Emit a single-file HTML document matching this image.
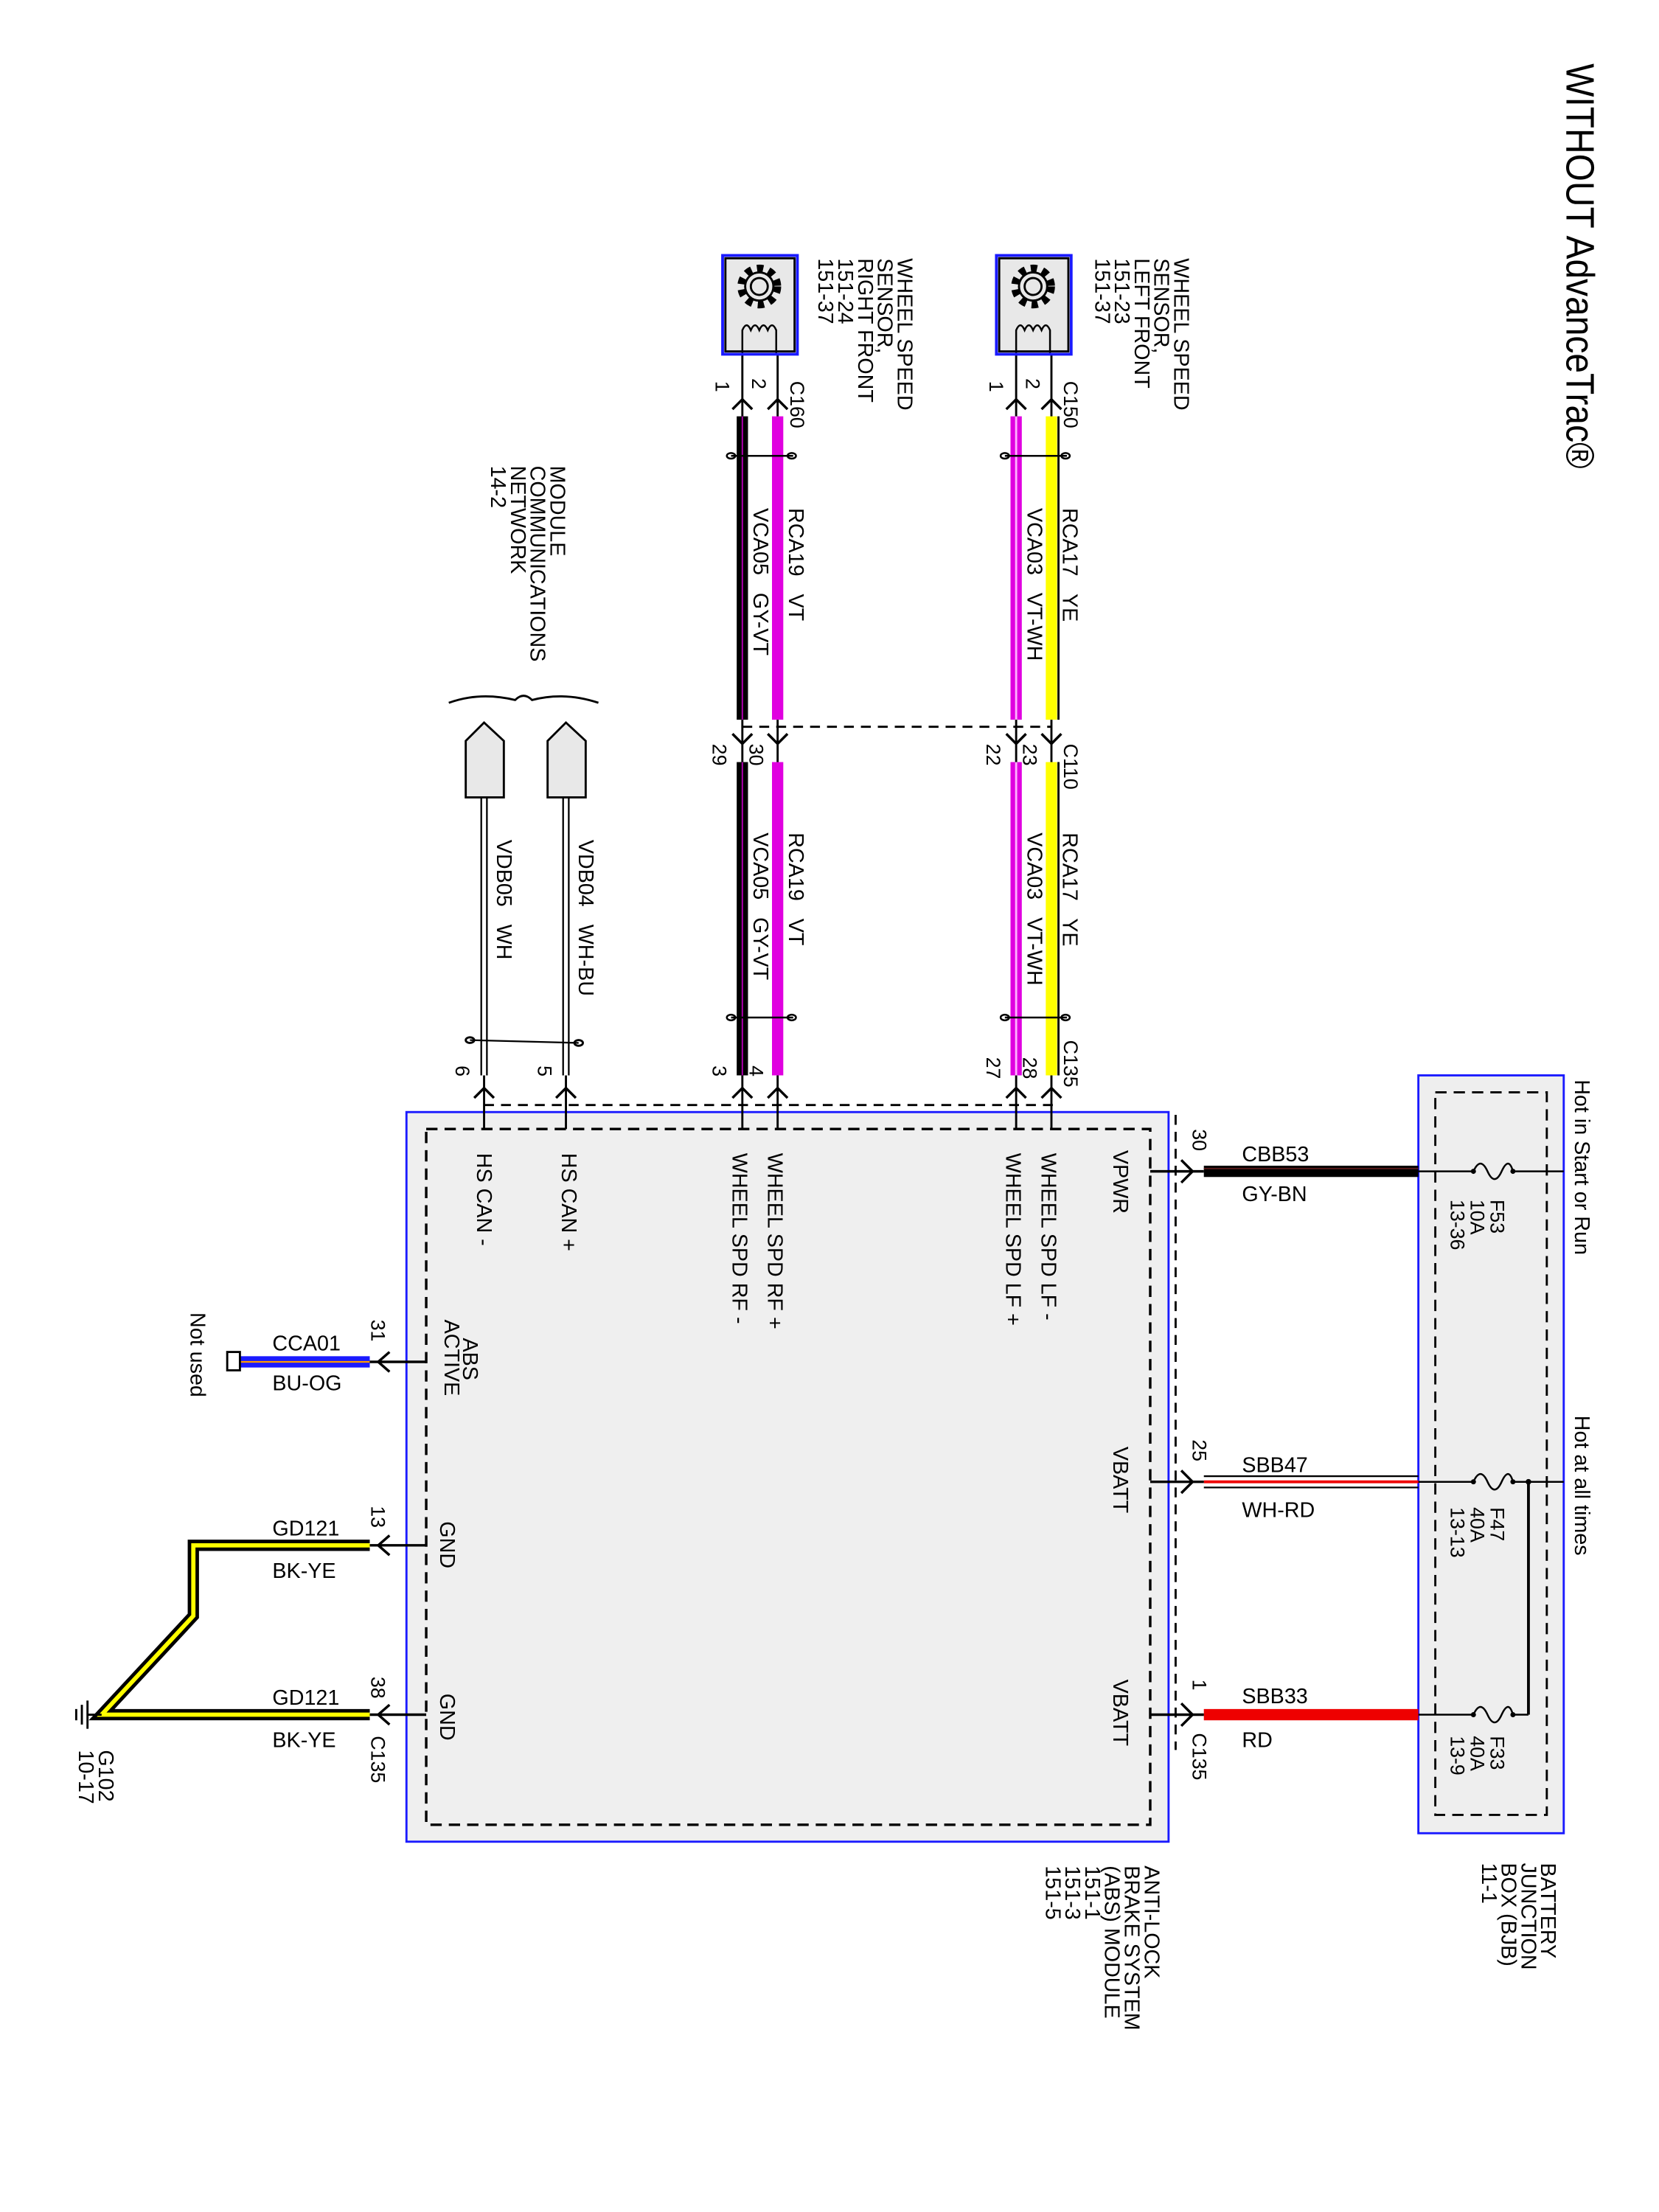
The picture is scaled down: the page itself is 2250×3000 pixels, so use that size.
<!DOCTYPE html>
<html><head><meta charset="utf-8"><style>
html,body{margin:0;padding:0;background:#fff}
svg{display:block}
text{font-family:"Liberation Sans",sans-serif;fill:#000}
</style></head><body>
<svg width="2250" height="3000" viewBox="0 0 1175.5 1567.4" preserveAspectRatio="none" xmlns="http://www.w3.org/2000/svg">
<rect width="1175.5" height="1567.4" fill="#fff"/>
<!-- Title -->
<text transform="translate(1110,45) rotate(90)" font-size="28" textLength="287" lengthAdjust="spacingAndGlyphs">WITHOUT AdvanceTrac®</text>

<!-- Battery junction box -->
<rect x="1005" y="762" width="103" height="537" fill="#eeeeee" stroke="#1a1aff" stroke-width="1.5"/>
<rect x="1017" y="774" width="79" height="512" fill="none" stroke="#000" stroke-width="1.5" stroke-dasharray="8,5"/>
<text transform="translate(1116,765) rotate(90)" font-size="15">Hot in Start or Run</text>
<text transform="translate(1116,1003) rotate(90)" font-size="15">Hot at all times</text>
<g stroke="#000" stroke-width="1.3" fill="none">
<line x1="1005" y1="830" x2="1044" y2="830"/><path d="M1044,830 q5,-11 10,0 q5,11 10,0 q5,-11 8,0"/><line x1="1072" y1="830" x2="1108" y2="830"/>
<line x1="1005" y1="1050" x2="1044" y2="1050"/><path d="M1044,1050 q5,-11 10,0 q5,11 10,0 q5,-11 8,0"/><line x1="1072" y1="1050" x2="1108" y2="1050"/>
<line x1="1005" y1="1215" x2="1044" y2="1215"/><path d="M1044,1215 q5,-11 10,0 q5,11 10,0 q5,-11 8,0"/><line x1="1072" y1="1215" x2="1083" y2="1215"/>
<line x1="1083" y1="1050" x2="1083" y2="1215" stroke-width="2"/>
</g>
<circle cx="1083" cy="1050" r="2"/>
<circle cx="1044" cy="830" r="1.8"/><circle cx="1072" cy="830" r="1.8"/>
<circle cx="1044" cy="1050" r="1.8"/><circle cx="1072" cy="1050" r="1.8"/>
<circle cx="1044" cy="1215" r="1.8"/><circle cx="1072" cy="1215" r="1.8"/>
<g font-size="14">
<text transform="translate(1056,850) rotate(90)">F53</text><text transform="translate(1042,850) rotate(90)">10A</text><text transform="translate(1028,850) rotate(90)">13-36</text>
<text transform="translate(1056,1068) rotate(90)">F47</text><text transform="translate(1042,1068) rotate(90)">40A</text><text transform="translate(1028,1068) rotate(90)">13-13</text>
<text transform="translate(1056,1230) rotate(90)">F33</text><text transform="translate(1042,1230) rotate(90)">40A</text><text transform="translate(1028,1230) rotate(90)">13-9</text>
</g>
<g font-size="15">
<text transform="translate(1092,1320) rotate(90)">BATTERY</text><text transform="translate(1078,1320) rotate(90)">JUNCTION</text><text transform="translate(1064,1320) rotate(90)">BOX (BJB)</text><text transform="translate(1050,1320) rotate(90)">11-1</text>
</g>

<!-- power wires -->
<rect x="853" y="826" width="152" height="8" fill="#000"/>
<line x1="853" y1="828" x2="1005" y2="828" stroke="#5a1a1a" stroke-width="1"/>
<g><line x1="853" y1="1046" x2="1005" y2="1046" stroke="#000" stroke-width="1.2"/><line x1="853" y1="1050" x2="1005" y2="1050" stroke="#e00" stroke-width="2"/><line x1="853" y1="1054" x2="1005" y2="1054" stroke="#000" stroke-width="1.2"/></g>
<rect x="853" y="1211" width="152" height="8" fill="#ee0000"/>
<g font-size="15">
<text x="880" y="823">CBB53</text><text x="880" y="851">GY-BN</text>
<text x="880" y="1043">SBB47</text><text x="880" y="1075">WH-RD</text>
<text x="880" y="1207">SBB33</text><text x="880" y="1238">RD</text>
</g>

<!-- ABS module -->
<rect x="288" y="788" width="540" height="517" fill="#efefef" stroke="#1a1aff" stroke-width="1.5"/>
<rect x="302" y="800" width="513" height="493" fill="none" stroke="#000" stroke-width="1.8" stroke-dasharray="8,5"/>
<line x1="833" y1="790" x2="833" y2="1240" stroke="#000" stroke-width="1.5" stroke-dasharray="7,5"/>
<line x1="343" y1="783" x2="748" y2="783" stroke="#000" stroke-width="1.5" stroke-dasharray="7,5"/>
<g stroke="#000" stroke-width="1.8" fill="none">
<line x1="815" y1="830" x2="853" y2="830"/><path d="M837,822 L845,830 L837,838"/>
<line x1="815" y1="1050" x2="853" y2="1050"/><path d="M837,1042 L845,1050 L837,1058"/>
<line x1="815" y1="1215" x2="853" y2="1215"/><path d="M837,1207 L845,1215 L837,1223"/>
</g>
<g font-size="14">
<text transform="translate(845,800) rotate(90)">30</text>
<text transform="translate(845,1020) rotate(90)">25</text>
<text transform="translate(845,1190) rotate(90)">1</text>
<text transform="translate(845,1228) rotate(90)">C135</text>
</g>
<g font-size="15">
<text transform="translate(789,815) rotate(90)">VPWR</text>
<text transform="translate(789,1025) rotate(90)">VBATT</text>
<text transform="translate(789,1190) rotate(90)">VBATT</text>
<text transform="translate(738,817) rotate(90)">WHEEL SPD LF -</text>
<text transform="translate(713,817) rotate(90)">WHEEL SPD LF +</text>
<text transform="translate(544,817) rotate(90)">WHEEL SPD RF +</text>
<text transform="translate(519,817) rotate(90)">WHEEL SPD RF -</text>
<text transform="translate(398,817) rotate(90)">HS CAN +</text>
<text transform="translate(338,817) rotate(90)">HS CAN -</text>
<text transform="translate(328,948) rotate(90)">ABS</text>
<text transform="translate(315,935) rotate(90)">ACTIVE</text>
<text transform="translate(312,1078) rotate(90)">GND</text>
<text transform="translate(312,1200) rotate(90)">GND</text>
</g>
<g font-size="15">
<text transform="translate(811,1322) rotate(90)">ANTI-LOCK</text><text transform="translate(797,1322) rotate(90)">BRAKE SYSTEM</text><text transform="translate(783,1322) rotate(90)">(ABS) MODULE</text><text transform="translate(769,1322) rotate(90)">151-1</text><text transform="translate(755,1322) rotate(90)">151-3</text><text transform="translate(741,1322) rotate(90)">151-5</text>
</g>

<!-- Top wires -->
<rect x="741" y="295" width="8" height="215" fill="#ffff00"/><line x1="750" y1="295" x2="750" y2="510" stroke="#000" stroke-width="1.5"/>
<rect x="741" y="540" width="8" height="222" fill="#ffff00"/><line x1="750" y1="540" x2="750" y2="762" stroke="#000" stroke-width="1.5"/>
<rect x="716" y="295" width="8" height="215" fill="#e000e0"/><line x1="720" y1="295" x2="720" y2="510" stroke="#ffb0ff" stroke-width="1.5"/>
<rect x="716" y="540" width="8" height="222" fill="#e000e0"/><line x1="720" y1="540" x2="720" y2="762" stroke="#ffb0ff" stroke-width="1.5"/>
<rect x="547" y="295" width="8" height="215" fill="#e000e0"/>
<rect x="547" y="540" width="8" height="222" fill="#e000e0"/>
<rect x="522" y="295" width="8" height="215" fill="#000"/><line x1="526" y1="295" x2="526" y2="510" stroke="#b000b0" stroke-width="1"/>
<rect x="522" y="540" width="8" height="222" fill="#000"/><line x1="526" y1="540" x2="526" y2="762" stroke="#b000b0" stroke-width="1"/>
<g stroke="#000" stroke-width="1.5" fill="none">
<line x1="745" y1="250" x2="745" y2="295"/><line x1="720" y1="250" x2="720" y2="295"/>
<line x1="551" y1="250" x2="551" y2="295"/><line x1="526" y1="250" x2="526" y2="295"/>
<line x1="745" y1="510" x2="745" y2="540"/><line x1="720" y1="510" x2="720" y2="540"/>
<line x1="551" y1="510" x2="551" y2="540"/><line x1="526" y1="510" x2="526" y2="540"/>
<line x1="745" y1="762" x2="745" y2="800"/><line x1="720" y1="762" x2="720" y2="800"/>
<line x1="551" y1="762" x2="551" y2="800"/><line x1="526" y1="762" x2="526" y2="800"/>
<line x1="401" y1="762" x2="401" y2="800"/><line x1="343" y1="762" x2="343" y2="800"/>
<line x1="526" y1="515" x2="745" y2="515" stroke-dasharray="7,5"/>
</g>
<g stroke="#000" stroke-width="1.8" fill="none">
<path d="M738,290 L745,283 L752,290"/><path d="M713,290 L720,283 L727,290"/>
<path d="M544,290 L551,283 L558,290"/><path d="M519,290 L526,283 L533,290"/>
<path d="M738,520 L745,527 L752,520"/><path d="M713,520 L720,527 L727,520"/>
<path d="M544,520 L551,527 L558,520"/><path d="M519,520 L526,527 L533,520"/>
<path d="M738,778 L745,771 L752,778"/><path d="M713,778 L720,771 L727,778"/>
<path d="M544,778 L551,771 L558,778"/><path d="M519,778 L526,771 L533,778"/>
<path d="M394,778 L401,771 L408,778"/><path d="M336,778 L343,771 L350,778"/>
</g>
<g stroke="#000" stroke-width="1.3" fill="none">
<line x1="712" y1="323" x2="756" y2="323"/><ellipse cx="712" cy="323" rx="3" ry="2"/><ellipse cx="755" cy="323" rx="3" ry="2"/>
<line x1="518" y1="323" x2="562" y2="323"/><ellipse cx="518" cy="323" rx="3" ry="2"/><ellipse cx="561" cy="323" rx="3" ry="2"/>
<line x1="712" y1="721" x2="756" y2="721"/><ellipse cx="712" cy="721" rx="3" ry="2"/><ellipse cx="755" cy="721" rx="3" ry="2"/>
<line x1="518" y1="721" x2="562" y2="721"/><ellipse cx="518" cy="721" rx="3" ry="2"/><ellipse cx="561" cy="721" rx="3" ry="2"/>
</g>
<g font-size="14">
<text transform="translate(701,270) rotate(90)">1</text><text transform="translate(727,268) rotate(90)">2</text><text transform="translate(754,270) rotate(90)">C150</text>
<text transform="translate(507,270) rotate(90)">1</text><text transform="translate(533,268) rotate(90)">2</text><text transform="translate(560,270) rotate(90)">C160</text>
<text transform="translate(699,527) rotate(90)">22</text><text transform="translate(725,527) rotate(90)">23</text><text transform="translate(754,527) rotate(90)">C110</text>
<text transform="translate(505,527) rotate(90)">29</text><text transform="translate(531,527) rotate(90)">30</text>
<text transform="translate(699,749) rotate(90)">27</text><text transform="translate(725,749) rotate(90)">28</text><text transform="translate(754,737) rotate(90)">C135</text>
<text transform="translate(505,755) rotate(90)">3</text><text transform="translate(531,755) rotate(90)">4</text>
<text transform="translate(381,755) rotate(90)">5</text><text transform="translate(323,755) rotate(90)">6</text>
</g>
<g font-size="15">
<text transform="translate(753,360) rotate(90)">RCA17 &#160; YE</text>
<text transform="translate(728,360) rotate(90)">VCA03 &#160; VT-WH</text>
<text transform="translate(559,360) rotate(90)">RCA19 &#160; VT</text>
<text transform="translate(534,360) rotate(90)">VCA05 &#160; GY-VT</text>
<text transform="translate(753,590) rotate(90)">RCA17 &#160; YE</text>
<text transform="translate(728,590) rotate(90)">VCA03 &#160; VT-WH</text>
<text transform="translate(559,590) rotate(90)">RCA19 &#160; VT</text>
<text transform="translate(534,590) rotate(90)">VCA05 &#160; GY-VT</text>
<text transform="translate(410,595) rotate(90)">VDB04 &#160; WH-BU</text>
<text transform="translate(352,595) rotate(90)">VDB05 &#160; WH</text>
</g>

<!-- Sensors -->
<g>
<rect x="706" y="181" width="53" height="70" fill="#e8e8e8" stroke="#1a1aff" stroke-width="2"/>
<rect x="708" y="183" width="49" height="66" fill="none" stroke="#000" stroke-width="1.5"/>
<circle cx="732" cy="203" r="13" fill="none" stroke="#000" stroke-width="5" stroke-dasharray="4.5,4"/>
<circle cx="732" cy="203" r="10" fill="#e8e8e8" stroke="#000" stroke-width="1.5"/>
<circle cx="732" cy="203" r="6" fill="none" stroke="#000" stroke-width="1.5"/>
<path d="M720,250 V234 q3,-7 6,0 q3,-7 6,0 q3,-7 6,0 q3,-7 6,0 V250" fill="none" stroke="#000" stroke-width="1.3"/>
<rect x="512" y="181" width="53" height="70" fill="#e8e8e8" stroke="#1a1aff" stroke-width="2"/>
<rect x="514" y="183" width="49" height="66" fill="none" stroke="#000" stroke-width="1.5"/>
<circle cx="538" cy="203" r="13" fill="none" stroke="#000" stroke-width="5" stroke-dasharray="4.5,4"/>
<circle cx="538" cy="203" r="10" fill="#e8e8e8" stroke="#000" stroke-width="1.5"/>
<circle cx="538" cy="203" r="6" fill="none" stroke="#000" stroke-width="1.5"/>
<path d="M526,250 V234 q3,-7 6,0 q3,-7 6,0 q3,-7 6,0 q3,-7 6,0 V250" fill="none" stroke="#000" stroke-width="1.3"/>
</g>
<g font-size="15">
<text transform="translate(832,183) rotate(90)">WHEEL SPEED</text><text transform="translate(818,183) rotate(90)">SENSOR,</text><text transform="translate(804,183) rotate(90)">LEFT FRONT</text><text transform="translate(790,183) rotate(90)">151-23</text><text transform="translate(776,183) rotate(90)">151-37</text>
<text transform="translate(636,183) rotate(90)">WHEEL SPEED</text><text transform="translate(622,183) rotate(90)">SENSOR,</text><text transform="translate(608,183) rotate(90)">RIGHT FRONT</text><text transform="translate(594,183) rotate(90)">151-24</text><text transform="translate(580,183) rotate(90)">151-37</text>
<text transform="translate(390,330) rotate(90)">MODULE</text><text transform="translate(376,330) rotate(90)">COMMUNICATIONS</text><text transform="translate(362,330) rotate(90)">NETWORK</text><text transform="translate(348,330) rotate(90)">14-2</text>
</g>

<!-- HS CAN connectors -->
<g stroke="#000" stroke-width="1.5">
<path d="M330,565 V525 L343,512 L357,525 V565 Z" fill="#e8e8e8"/>
<path d="M388,565 V525 L401,512 L415,525 V565 Z" fill="#e8e8e8"/>
<path d="M318,498 Q340,490 365,496 Q371,490 377,496 Q400,490 424,498" fill="none"/>
<line x1="341" y1="565" x2="341" y2="762" stroke-width="1.2"/><line x1="345" y1="565" x2="345" y2="762" stroke-width="1.2"/>
<line x1="399" y1="565" x2="399" y2="762" stroke-width="1.2"/><line x1="403" y1="565" x2="403" y2="762" stroke-width="1.2"/>
<line x1="333" y1="737" x2="410" y2="739" stroke-width="1.2" fill="none"/>
<ellipse cx="333" cy="737" rx="3" ry="2" fill="none"/><ellipse cx="410" cy="739" rx="3" ry="2" fill="none"/>
</g>

<!-- Left side -->
<g stroke="#000" stroke-width="1.8" fill="none">
<line x1="262" y1="965" x2="302" y2="965"/><path d="M276,958 L268,965 L276,972"/>
<line x1="262" y1="1095" x2="302" y2="1095"/><path d="M276,1088 L268,1095 L276,1102"/>
<line x1="262" y1="1215" x2="302" y2="1215"/><path d="M276,1208 L268,1215 L276,1222"/>
</g>
<rect x="170" y="961" width="92" height="8" fill="#1a1aff"/><line x1="170" y1="965" x2="262" y2="965" stroke="#ff9900" stroke-width="1.2"/>
<rect x="161" y="958" width="9" height="13" fill="#fff" stroke="#000" stroke-width="1.5"/>
<path d="M262,1095 H137 V1145 L72,1215 H262" fill="none" stroke="#000" stroke-width="8"/>
<path d="M262,1095 H137 V1145 L72,1215 H262" fill="none" stroke="#ffff00" stroke-width="3"/>
<g stroke="#000" stroke-width="1.5">
<line x1="72" y1="1215" x2="62" y2="1215"/><line x1="62" y1="1205" x2="62" y2="1225"/><line x1="58" y1="1208" x2="58" y2="1222"/><line x1="54" y1="1211" x2="54" y2="1219"/>
</g>
<g font-size="15">
<text x="193" y="957">CCA01</text><text x="193" y="985">BU-OG</text>
<text x="193" y="1088">GD121</text><text x="193" y="1118">BK-YE</text>
<text x="193" y="1208">GD121</text><text x="193" y="1238">BK-YE</text>
<text transform="translate(135,930) rotate(90)">Not used</text>
<text transform="translate(70,1240) rotate(90)">G102</text><text transform="translate(56,1240) rotate(90)">10-17</text>
</g>
<g font-size="14">
<text transform="translate(263,935) rotate(90)">31</text>
<text transform="translate(263,1067) rotate(90)">13</text>
<text transform="translate(263,1188) rotate(90)">38</text>
<text transform="translate(263,1230) rotate(90)">C135</text>
</g>
</svg>
</body></html>
